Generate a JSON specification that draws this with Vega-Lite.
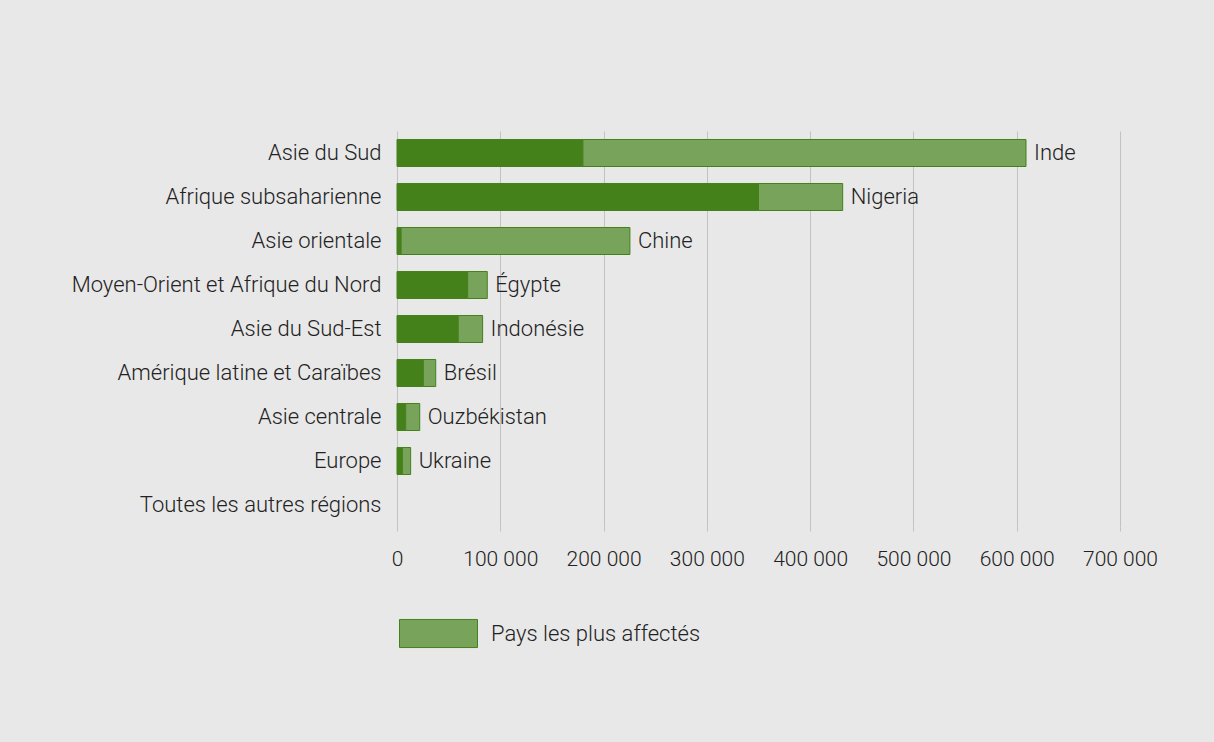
{
  "$schema": "https://vega.github.io/schema/vega-lite/v6.json",
  "autosize": {"type": "none"},
  "width": 723,
  "height": 396,
  "padding": {"left": 397, "top": 131, "right": 94, "bottom": 215},
  "background": "#e8e8e8",
  "config": {
    "view": {"stroke": null},
    "font": "Roboto",
    "text": {"font": "Roboto"}
  },
  "data": {
    "values": [
      {"region": "Asie du Sud", "country": "Inde", "part": "Reste de la région", "value": 180000},
      {"region": "Asie du Sud", "country": "Inde", "part": "Pays les plus affectés", "value": 429000},
      {"region": "Afrique subsaharienne", "country": "Nigeria", "part": "Reste de la région", "value": 350000},
      {"region": "Afrique subsaharienne", "country": "Nigeria", "part": "Pays les plus affectés", "value": 81500},
      {"region": "Asie orientale", "country": "Chine", "part": "Reste de la région", "value": 4000},
      {"region": "Asie orientale", "country": "Chine", "part": "Pays les plus affectés", "value": 221500},
      {"region": "Moyen-Orient et Afrique du Nord", "country": "Égypte", "part": "Reste de la région", "value": 68400},
      {"region": "Moyen-Orient et Afrique du Nord", "country": "Égypte", "part": "Pays les plus affectés", "value": 19000},
      {"region": "Asie du Sud-Est", "country": "Indonésie", "part": "Reste de la région", "value": 59300},
      {"region": "Asie du Sud-Est", "country": "Indonésie", "part": "Pays les plus affectés", "value": 23600},
      {"region": "Amérique latine et Caraïbes", "country": "Brésil", "part": "Reste de la région", "value": 25500},
      {"region": "Amérique latine et Caraïbes", "country": "Brésil", "part": "Pays les plus affectés", "value": 12000},
      {"region": "Asie centrale", "country": "Ouzbékistan", "part": "Reste de la région", "value": 8400},
      {"region": "Asie centrale", "country": "Ouzbékistan", "part": "Pays les plus affectés", "value": 13600},
      {"region": "Europe", "country": "Ukraine", "part": "Reste de la région", "value": 5200},
      {"region": "Europe", "country": "Ukraine", "part": "Pays les plus affectés", "value": 8000},
      {"region": "Toutes les autres régions", "country": "", "part": "Reste de la région", "value": 0},
      {"region": "Toutes les autres régions", "country": "", "part": "Pays les plus affectés", "value": 0}
    ]
  },
  "encoding": {
    "y": {
      "field": "region",
      "type": "nominal",
      "sort": null,
      "title": null,
      "scale": {"paddingInner": 0.386, "paddingOuter": 0.193},
      "axis": {
        "domain": false,
        "ticks": false,
        "grid": false,
        "labelPadding": 16,
        "labelFontSize": 22,
        "labelFont": "Roboto",
        "labelFontWeight": 300,
        "labelColor": "#222222",
        "labelLimit": 400
      }
    }
  },
  "layer": [
    {
      "transform": [{"filter": "datum.value > 0"}],
      "mark": {"type": "bar", "strokeWidth": 1},
      "encoding": {
        "x": {
          "field": "value",
          "type": "quantitative",
          "stack": "zero",
          "title": null,
          "scale": {"domain": [0, 700000], "nice": false},
          "axis": {
            "values": [0, 100000, 200000, 300000, 400000, 500000, 600000, 700000],
            "labelExpr": "replace(format(datum.value, ','), ',', ' ')",
            "labelFlush": false,
            "labelOverlap": false,
            "domain": false,
            "ticks": true,
            "tickSize": 4,
            "tickColor": "#c2c2c2",
            "grid": true,
            "gridColor": "#c2c2c2",
            "gridWidth": 1,
            "labelPadding": 17,
            "labelFontSize": 21,
            "labelFont": "Roboto",
            "labelFontWeight": 300,
            "labelColor": "#222222"
          }
        },
        "order": {"field": "part", "sort": "descending"},
        "color": {
          "field": "part",
          "type": "nominal",
          "scale": {
            "domain": ["Reste de la région", "Pays les plus affectés"],
            "range": ["#45811b", "#78a35a"]
          },
          "legend": {
            "values": ["Pays les plus affectés"],
            "title": null,
            "orient": "none",
            "legendX": 2,
            "legendY": 463,
            "padding": 0,
            "symbolType": "M-1,-0.36L1,-0.36L1,0.36L-1,0.36Z",
            "symbolSize": 6084,
            "symbolStrokeColor": "#45811b",
            "symbolStrokeWidth": 1,
            "symbolOpacity": 1,
            "labelFontSize": 22,
            "labelFont": "Roboto",
            "labelFontWeight": 300,
            "labelColor": "#222222",
            "labelOffset": 13,
            "labelLimit": 400
          }
        },
        "stroke": {
          "field": "part",
          "type": "nominal",
          "scale": {
            "domain": ["Reste de la région", "Pays les plus affectés"],
            "range": ["#45811b", "#45811b"]
          },
          "legend": null
        }
      }
    },
    {
      "mark": {
        "type": "text",
        "align": "left",
        "baseline": "middle",
        "dx": 8,
        "fontSize": 22,
        "fontWeight": 300,
        "font": "Roboto",
        "color": "#222222"
      },
      "encoding": {
        "x": {"aggregate": "sum", "field": "value", "type": "quantitative"},
        "text": {"field": "country", "type": "nominal"}
      }
    }
  ]
}
